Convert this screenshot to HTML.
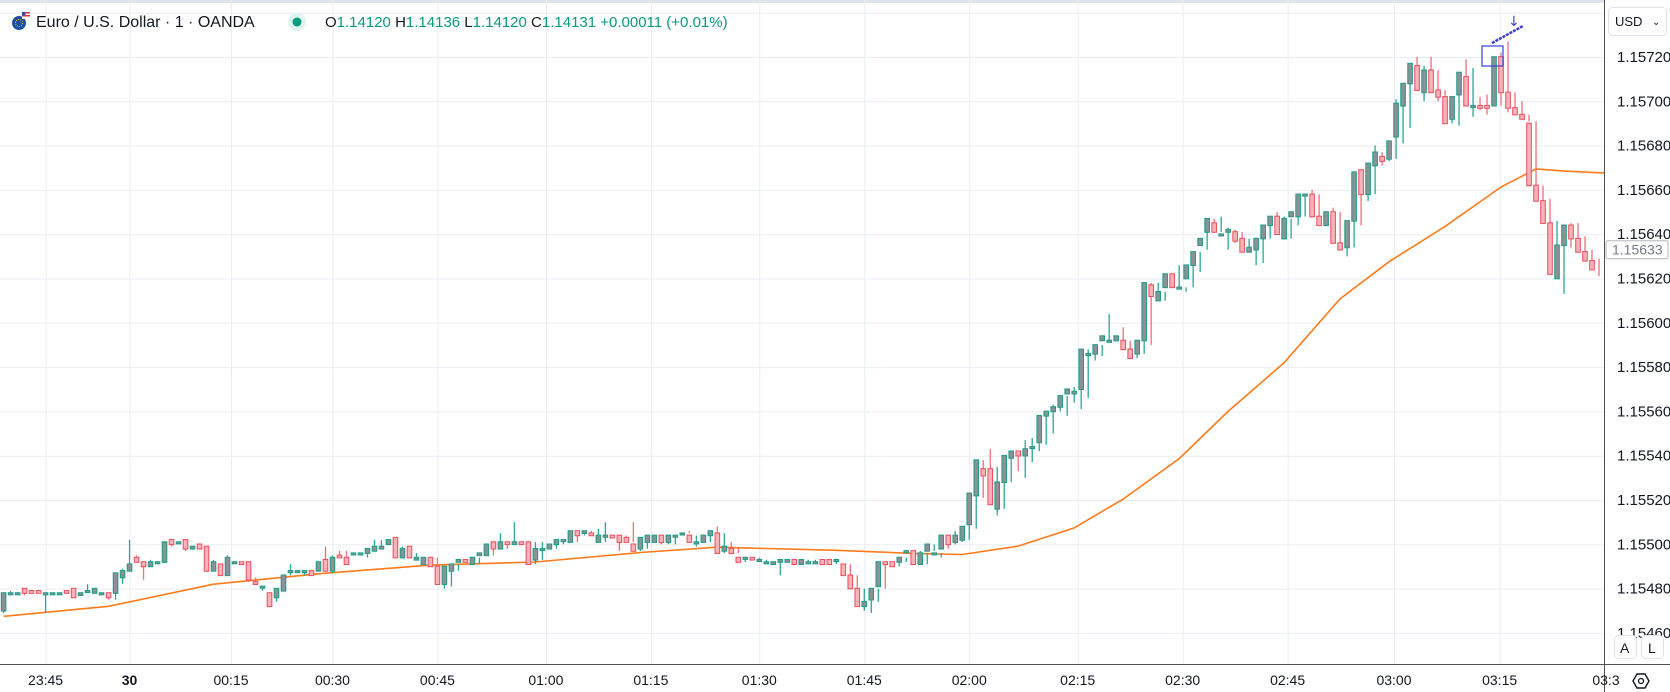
<!DOCTYPE html>
<html><head><meta charset="utf-8"><style>
html,body{margin:0;padding:0;background:#fff;}
body{width:1670px;height:692px;overflow:hidden;position:relative;font-family:"Liberation Sans",sans-serif;}
svg{position:absolute;left:0;top:0;}
</style></head><body>
<svg id="chart" width="1670" height="692" viewBox="0 0 1670 692">
  <rect x="0" y="0" width="1670" height="3" fill="#e0e3eb"/>
  <g id="grid"></g>
  <g id="ma"></g>
  <g id="candles"></g>
  <g id="drawing">
    <rect x="1482" y="46" width="21" height="20" fill="none" stroke="#3b3fd6" stroke-width="1.2"/>
    <line x1="1492" y1="43" x2="1523" y2="26" stroke="#3b3fd6" stroke-width="2.5" stroke-dasharray="3,1"/>
    <text x="1508" y="26" font-size="14" fill="#3b3fd6" font-family="DejaVu Sans, sans-serif">↓</text>
  </g>
  <rect x="1604" y="0" width="66" height="692" fill="#fff"/>
  <line x1="1604.5" y1="0" x2="1604.5" y2="692" stroke="#505050" stroke-width="1"/>
  <line x1="0" y1="664.5" x2="1670" y2="664.5" stroke="#505050" stroke-width="1"/>
  <rect x="0" y="665" width="1604" height="27" fill="#fff"/>
  <g id="yaxis"></g>
  <g id="xaxis"></g>
  <g>
    <rect x="1608.5" y="7.5" width="58" height="28" rx="4" fill="#fff" stroke="#e0e3eb"/>
    <text x="1615" y="26" font-size="13" fill="#131722">USD</text>
    <text x="1652" y="25" font-size="10" fill="#131722">⌄</text>
  </g>
  <g>
    <rect id="lastbox" x="1606" y="241" width="62" height="18" fill="#fff" stroke="#b2b5be" rx="2"/>
    <text id="lasttext" x="1612" y="255" font-size="14" fill="#787b86">1.15633</text>
  </g>
  <g>
    <rect x="1614.5" y="635.5" width="22" height="23" rx="4" fill="#fff" stroke="#e0e3eb"/>
    <text x="1620" y="653" font-size="14" fill="#131722">A</text>
  </g>
  <g>
    <rect x="1641.5" y="635.5" width="22" height="23" rx="4" fill="#fff" stroke="#e0e3eb"/>
    <text x="1648" y="653" font-size="14" fill="#131722">L</text>
  </g>
  <g>
    <polygon points="1633,681 1637,674 1645,674 1649,681 1645,688 1637,688" fill="none" stroke="#131722" stroke-width="1.4"/>
    <circle cx="1641" cy="681" r="2.5" fill="none" stroke="#131722" stroke-width="1.3"/>
  </g>
  <g>
    <g>
      <circle cx="19" cy="23" r="7" fill="#1d4fa6"/>
      <circle cx="19" cy="23" r="3.5" fill="none" stroke="#f5c400" stroke-width="1" stroke-dasharray="1,1.2"/>
      <rect x="22" y="12" width="8" height="7" fill="#fff"/>
      <rect x="22" y="12" width="8" height="1.5" fill="#e0373c"/>
      <rect x="22" y="15" width="8" height="1.5" fill="#e0373c"/>
      <rect x="22" y="12" width="3.5" height="3.5" fill="#2d4fa0"/>
    </g>
    <text x="36" y="27" font-size="16" fill="#131722">Euro / U.S. Dollar · 1 · OANDA</text>
    <circle cx="297" cy="22" r="9" fill="#dff3ef"/>
    <circle cx="297" cy="22" r="4.5" fill="#089981"/>
    <text x="325" y="27" font-size="15" fill="#089981"><tspan fill="#131722">O</tspan>1.14120 <tspan fill="#131722">H</tspan>1.14136 <tspan fill="#131722">L</tspan>1.14120 <tspan fill="#131722">C</tspan>1.14131 +0.00011 (+0.01%)</text>
  </g>
</svg>
<script>
// values in units of 0.00001 above 1.15400
const opens=[70,78,78,80,79,79,78,78,78,79,80,77,79,78,78,78,78,85,88,94,92,90,92,92,102,101,102,98,100,99,88,91,86,92,92,92,83,81,78,76,79,88,88,88,88,88,93,88,95,94,96,96,96,97,98,100,103,94,99,93,91,94,90,82,88,92,93,91,95,95,101,98,101,100,101,101,93,98,98,100,102,101,106,105,105,101,104,104,104,103,100,98,101,101,104,101,104,105,104,101,101,104,105,97,98,94,94,94,93,92,91,92,92,93,91,92,92,93,93,93,91,86,80,72,75,81,92,92,92,97,97,91,97,96,98,104,101,102,109,122,134,134,116,128,139,142,140,144,146,158,160,162,168,168,170,186,186,192,192,192,192,188,186,192,217,210,216,222,216,220,226,235,241,245,240,241,241,238,232,233,238,244,248,238,248,248,258,258,248,244,250,236,234,246,269,258,271,275,274,284,298,308,316,304,314,305,302,292,303,311,298,298,298,298,320,304,297,294,290,262,255,245,220,235,244,238,232,228];
const highs=[78,79,78,80,79,79,78,78,78,79,80,78,82,80,78,78,87,89,102,95,92,93,92,101,102,101,102,99,100,99,93,91,95,92,92,92,85,81,78,80,86,91,88,88,88,92,99,95,97,97,96,96,98,102,102,102,103,99,99,96,94,94,94,90,90,91,93,94,94,96,100,105,101,110,101,101,101,101,99,100,102,102,106,106,106,107,110,104,104,104,110,101,103,104,104,104,104,104,106,104,101,104,108,105,101,98,94,94,94,93,92,92,93,93,93,93,93,92,93,93,93,91,86,80,75,80,92,92,92,94,97,97,96,100,96,104,106,104,110,134,138,143,135,128,142,142,147,148,155,158,163,166,167,171,176,188,189,190,204,192,198,192,188,192,218,218,214,222,226,216,226,232,243,247,248,243,242,241,238,234,238,246,250,248,247,252,258,260,258,248,252,250,236,246,268,269,280,277,276,301,299,308,320,316,320,314,305,302,308,319,315,302,303,313,322,327,304,300,294,291,262,256,246,236,245,245,239,233,229];
const lows=[69,77,78,77,78,78,69,78,78,78,76,77,79,78,78,75,75,82,88,92,84,90,91,92,99,101,97,98,98,88,88,86,86,92,91,83,82,79,72,74,79,86,88,86,86,88,88,87,94,91,96,96,94,97,98,100,94,94,94,93,93,91,90,80,81,88,92,91,91,95,95,98,98,100,100,96,91,93,98,98,100,101,101,104,105,104,101,104,97,101,101,97,98,101,100,100,100,104,105,99,101,101,104,96,96,96,92,94,92,92,92,86,92,92,91,91,92,92,91,91,93,85,80,70,69,74,80,91,90,92,97,91,91,97,94,98,100,101,102,107,121,131,113,116,128,133,130,137,142,145,150,160,158,164,161,166,183,185,192,192,191,188,184,186,190,212,210,216,216,214,216,223,233,241,241,233,236,237,232,226,227,238,244,240,238,244,248,256,248,244,244,236,230,234,244,255,258,271,273,274,281,288,308,300,304,300,302,290,289,303,293,296,294,298,298,295,296,292,291,262,252,244,220,213,234,236,231,227,221,206];
const closes=[78,78,78,78,78,78,78,78,78,78,76,78,79,80,78,76,87,88,91,92,90,92,92,101,100,101,98,99,98,88,92,86,94,92,91,84,82,81,72,80,86,88,88,88,86,92,88,94,94,91,96,96,98,99,99,102,94,98,94,94,94,90,82,90,91,93,92,94,96,100,98,101,100,101,100,91,98,98,100,102,102,106,104,106,104,104,104,103,101,101,97,103,104,104,101,104,104,105,101,101,104,106,96,99,96,92,94,93,93,92,92,93,93,91,93,92,92,91,91,93,86,80,72,74,80,92,91,90,94,97,91,96,100,96,104,100,104,108,123,138,131,118,128,140,142,140,143,144,158,160,162,167,170,169,188,186,190,194,192,194,188,184,192,218,212,214,222,216,216,226,232,238,247,241,240,242,237,232,234,238,244,248,240,247,250,258,258,248,244,250,236,233,246,268,258,272,277,273,282,299,308,317,305,314,304,302,290,302,313,298,298,297,297,320,304,297,294,292,262,255,245,222,235,244,238,232,228,224,207];
// moving average samples (bar index, value)
const maIdx=[0,15,30,45,61,76,91,102,119,130,137,145,153,160,168,175,183,191,198,206,214,219,223,229];
const maVals=[67.5,72,82,86.7,90.6,92,96.3,98.7,97.3,95.9,95.4,99.2,107.4,120.4,138.7,160,182,210.8,227.6,243.5,261.3,269.5,268.5,267.6];
// axis ticks
const priceTicks=[340,320,300,280,260,240,220,200,180,160,140,120,100,80,60];
const timeLabels=["23:45","30","00:15","00:30","00:45","01:00","01:15","01:30","01:45","02:00","02:15","02:30","02:45","03:00","03:15","03:3"];
const timeBars=[6,18,32.5,47,62,77.5,92.5,108,123,138,153.5,168.5,183.5,198.7,213.8,229];
const lastPrice=233;

const NS="http://www.w3.org/2000/svg";
const step=(1599-3.6)/(closes.length-1);
function xOf(i){return 3.6+i*step;}
function yOf(v){return 57+(320-v)*2.215;}
function mk(tag,attrs,parent){const e=document.createElementNS(NS,tag);for(const k in attrs)e.setAttribute(k,attrs[k]);parent.appendChild(e);return e;}

const grid=document.getElementById('grid');
priceTicks.forEach(v=>{
  const l=mk('line',{x1:0,x2:1604,y1:yOf(v)+0.5,y2:yOf(v)+0.5,stroke:'#e9edf3','stroke-width':1},grid);
  
  
});
timeBars.forEach(b=>{
  const l=mk('line',{x1:xOf(b)+0.5,x2:xOf(b)+0.5,y1:0,y2:664,stroke:'#e9edf3','stroke-width':1},grid);
  
  
});

const ma=document.getElementById('ma');
let pts=maIdx.map((b,k)=>xOf(b).toFixed(1)+','+yOf(maVals[k]).toFixed(1)).join(' ');
const pl=mk('polyline',{points:pts,fill:'none',stroke:'#ff7a1a','stroke-width':1.6},ma);



const cg=document.getElementById('candles');
closes.forEach((c,i)=>{
  const o=opens[i],h=highs[i],l=lows[i];
  const up=c>=o;
  const x=xOf(i);
  const g=mk('g',{},cg);
  
  
  mk('line',{x1:x,x2:x,y1:yOf(h),y2:yOf(l),stroke:up?'#2aa893':'#ee6f7a','stroke-width':1.3},g);
  const top=yOf(Math.max(o,c)),bot=yOf(Math.min(o,c));
  const hgt=Math.max(bot-top,1.5);
  mk('rect',{x:x-2.3,y:top-0.3,width:4.6,height:hgt+0.6,fill:up?'#8c9196':'#f6b3bc',stroke:up?'#1b9c86':'#ea4d5b','stroke-width':1},g);
});

const ya=document.getElementById('yaxis');
priceTicks.forEach(v=>{
  if(v>330||v<70) return;
  const t=mk('text',{x:1617,y:yOf(v)+5,'font-size':15,fill:'#131722'},ya);
  t.textContent=(1.154+v/100000).toFixed(5);
  
  
});
{const t=mk('text',{x:1617,y:yOf(60)+5,'font-size':15,fill:'#131722'},ya);
t.textContent='1.15460';

}
const ly=yOf(lastPrice);
document.getElementById('lastbox').setAttribute('y',ly-9);
document.getElementById('lasttext').setAttribute('y',ly+5);
document.getElementById('lasttext').textContent=(1.154+lastPrice/100000).toFixed(5);

const xa=document.getElementById('xaxis');
timeLabels.forEach((s,k)=>{
  const t=mk('text',{x:xOf(timeBars[k]),y:685,'font-size':14,fill:'#131722','text-anchor':'middle','font-weight':s==='30'?'bold':'normal'},xa);
  t.textContent=s;
  
  
});
</script>
</body></html>
